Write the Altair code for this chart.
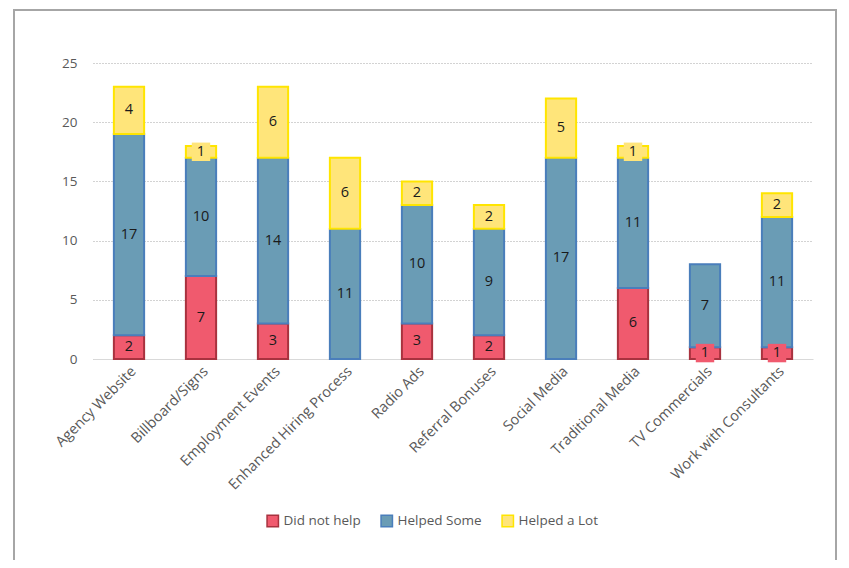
import altair as alt
import pandas as pd

categories = ["Agency Website", "Billboard/Signs", "Employment Events", "Enhanced Hiring Process",
              "Radio Ads", "Referral Bonuses", "Social Media", "Traditional Media",
              "TV Commercials", "Work with Consultants"]
series = ["Did not help", "Helped Some", "Helped a Lot"]
did_not_help = [2, 7, 3, 0, 3, 2, 0, 6, 1, 1]
helped_some = [17, 10, 14, 11, 10, 9, 17, 11, 7, 11]
helped_a_lot = [4, 1, 6, 6, 2, 2, 5, 1, 0, 2]
y_ticks = [0, 5, 10, 15, 20, 25]

fills = ["#F05A6E", "#6A9CB5", "#FFE57A"]
strokes = ["#A8323F", "#4A7EBB", "#FFE500"]

rows = []
for s_i, (s, vals) in enumerate(zip(series, [did_not_help, helped_some, helped_a_lot])):
    for c, v in zip(categories, vals):
        rows.append({"category": c, "series": s, "value": v, "order": s_i})
df = pd.DataFrame(rows)

FONT = "Open Sans"
W, H = 720, 296

base = alt.Chart(df).transform_filter("datum.value > 0").transform_stack(
    stack="value", groupby=["category"], as_=["v0", "v1"],
    sort=[alt.SortField("order", order="ascending")]
).transform_calculate(mid="(datum.v0 + datum.v1) / 2")

xenc = alt.X("category:N", sort=categories, title=None,
             scale=alt.Scale(paddingInner=0.58, paddingOuter=0.29),
             axis=alt.Axis(labelAngle=-45, labelFontSize=14.5, labelColor="#595959",
                           labelFont=FONT, ticks=False, domainColor="#D9D9D9",
                           labelPadding=5, labelLimit=300, grid=False))

color_fill = alt.Color("series:N", sort=series,
                       scale=alt.Scale(domain=series, range=fills),
                       legend=alt.Legend(title=None, orient="none", legendX=173, legendY=451,
                                         direction="horizontal", symbolType="square",
                                         symbolSize=130, symbolStrokeWidth=1.5,
                                         labelFontSize=13.5, labelColor="#595959", labelFont=FONT,
                                         columnPadding=17, labelOffset=4))
color_stroke = alt.Stroke("series:N", sort=series,
                          scale=alt.Scale(domain=series, range=strokes), legend=None)

bars = base.mark_bar(strokeWidth=2).encode(
    x=xenc,
    y=alt.Y("v0:Q", title=None,
            scale=alt.Scale(domain=[0, 25], nice=False),
            axis=alt.Axis(values=y_ticks, labelFontSize=13.5, labelColor="#595959", labelFont=FONT,
                          ticks=False, domain=False, gridColor="#A6A6A6", gridDash=[1, 2],
                          gridWidth=1, labelPadding=16)),
    y2="v1:Q",
    fill=color_fill,
    stroke=color_stroke,
)

boxes = base.transform_filter("datum.value == 1").mark_square(size=340, opacity=1).encode(
    x=alt.X("category:N", sort=categories),
    y=alt.Y("mid:Q"),
    fill=alt.Fill("series:N", sort=series, scale=alt.Scale(domain=series, range=fills), legend=None),
)

labels = base.mark_text(fontSize=14.5, color="#1A1A1A", font=FONT).encode(
    x=alt.X("category:N", sort=categories),
    y=alt.Y("mid:Q"),
    text=alt.Text("value:Q"),
)

frame = alt.Chart(pd.DataFrame({"a": [0]})).mark_rect(
    fill=None, stroke="#A6A6A6", strokeWidth=2
).encode(x=alt.value(-79), x2=alt.value(743), y=alt.value(-53), y2=alt.value(530))

chart = alt.layer(frame, bars, boxes, labels).properties(
    width=W, height=H,
    autosize=alt.AutoSizeParams(type="none"),
    padding={"left": 85, "top": 55, "right": 28, "bottom": 201},
    background="white",
).configure_view(stroke=None)

chart.save("out.html", embed_options={"renderer": "svg", "actions": False})
